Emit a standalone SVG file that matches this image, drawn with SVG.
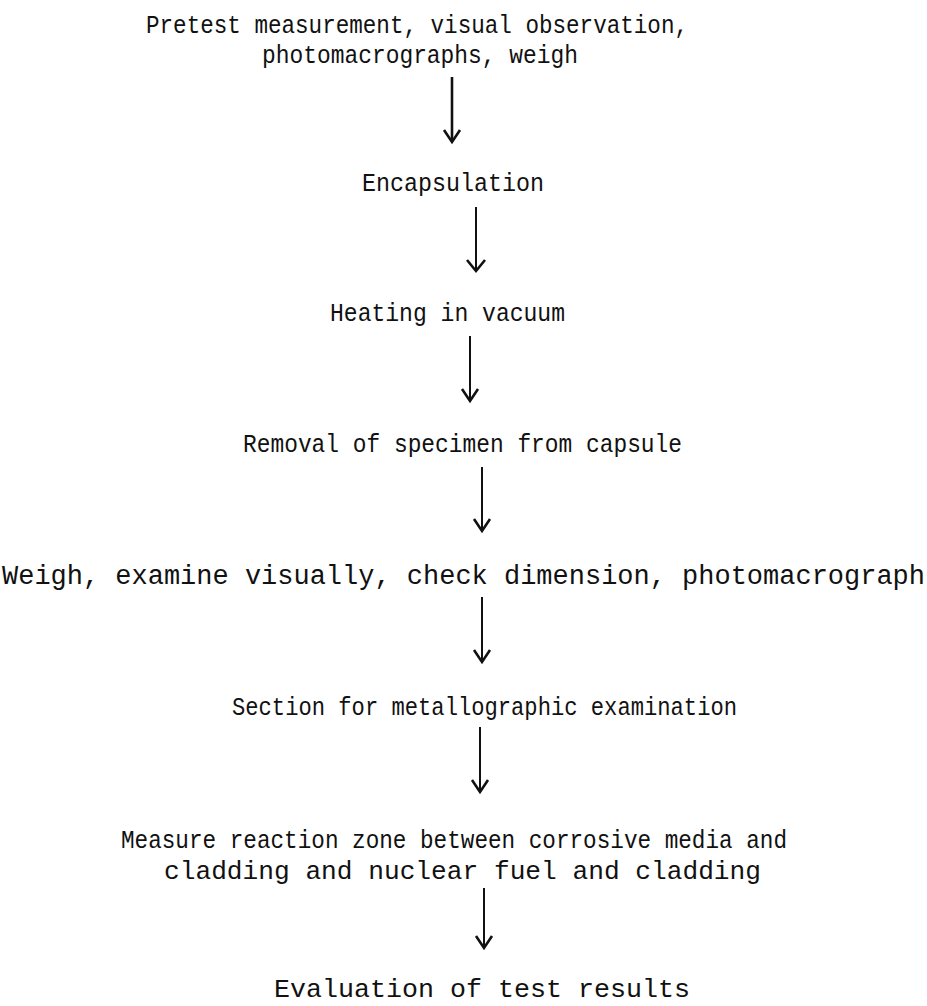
<svg xmlns="http://www.w3.org/2000/svg" width="927" height="1006" viewBox="0 0 927 1006">
<style>
text{font-family:"Liberation Mono","DejaVu Sans Mono",monospace;font-size:25px;fill:#111}
.c line,.c path{stroke:#111;stroke-width:2;fill:none}
.c path{stroke-width:2.6;stroke-linejoin:miter}
</style>
<rect width="927" height="1006" fill="#fff"/>
<g id="n1"><text x="146" y="33" textLength="542" lengthAdjust="spacingAndGlyphs">Pretest measurement, visual observation,</text><text x="262" y="63" textLength="316" lengthAdjust="spacingAndGlyphs">photomacrographs, weigh</text></g>
<g id="n2"><text x="362" y="191" textLength="182" lengthAdjust="spacingAndGlyphs">Encapsulation</text></g>
<g id="n3"><text x="330" y="321" textLength="235" lengthAdjust="spacingAndGlyphs">Heating in vacuum</text></g>
<g id="n4"><text x="243" y="452" textLength="439" lengthAdjust="spacingAndGlyphs">Removal of specimen from capsule</text></g>
<g id="n5"><text x="2" y="584" textLength="923" lengthAdjust="spacingAndGlyphs" style="font-size:27px">Weigh, examine visually, check dimension, photomacrograph</text></g>
<g id="n6"><text x="232" y="715" textLength="505" lengthAdjust="spacingAndGlyphs">Section for metallographic examination</text></g>
<g id="n7"><text x="121" y="848" textLength="666" lengthAdjust="spacingAndGlyphs">Measure reaction zone between corrosive media and</text><text x="164" y="879" textLength="597" lengthAdjust="spacingAndGlyphs">cladding and nuclear fuel and cladding</text></g>
<g id="n8"><text x="274" y="997" textLength="416" lengthAdjust="spacingAndGlyphs">Evaluation of test results</text></g>
<g id="connectors" class="c">
<line x1="452" y1="77" x2="452" y2="142" style="stroke-width:2.6"/><path d="M444 130 L452 142 L460 130"/>
<line x1="476" y1="207" x2="476" y2="271"/><path d="M467 260 L476 271 L485 260"/>
<line x1="470" y1="336" x2="470" y2="401"/><path d="M462 389 L470 401 L478 389"/>
<line x1="482" y1="467" x2="482" y2="531"/><path d="M474 519 L482 531 L490 519"/>
<line x1="482" y1="597" x2="482" y2="662"/><path d="M474 650 L482 662 L490 650"/>
<line x1="480" y1="727" x2="480" y2="792"/><path d="M472 780 L480 792 L488 780"/>
<line x1="484" y1="888" x2="484" y2="948"/><path d="M476 936 L484 948 L492 936"/>
</g>
</svg>
